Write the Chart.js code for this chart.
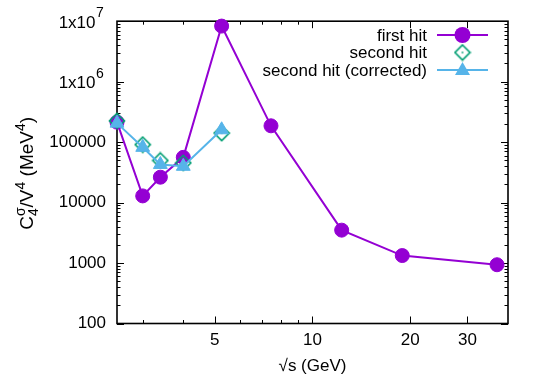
<!DOCTYPE html>
<html>
<head>
<meta charset="utf-8">
<script src="https://cdn.jsdelivr.net/npm/chart.js@4.4.1/dist/chart.umd.min.js"></script>
<style>
html, body { margin: 0; padding: 0; background: #fff; }
#wrap { width: 540px; height: 379px; }
</style>
</head>
<body>
<div id="wrap"><canvas id="c4chart"></canvas></div>
<script>
// values
var energies       = [2.5, 3.0, 3.4, 4.0, 5.25, 7.45, 12.3, 18.9, 37];
var firstHit       = [214000, 12900, 26300, 56000, 8300000, 186000, 3500, 1330, 937];
var secondEnergies = [2.5, 3.0, 3.4, 4.0, 5.25];
var secondHit      = [225000, 91000, 49700, 45400, 141000];
var secondHitCorr  = [206000, 82000, 42700, 39800, 160000];

var xTicks      = [5, 10, 20, 30];
var xMinorTicks = [3, 4, 6, 7, 8, 9];
var yTicks      = [100, 1000, 10000, 100000, 1000000, 10000000];
var yTickLabels = ['100', '1000', '10000', '100000', '1x10^6', '1x10^7'];
var seriesNames = ['first hit', 'second hit', 'second hit (corrected)'];

var PURPLE = '#9400d3', GREEN = '#009e73', BLUE = '#56b4e9';
var FONT = '"Liberation Sans", Arial, sans-serif';

function pairs(xs, ys) {
	return xs.map(function (x, i) { return { x: x, y: ys[i] }; });
}

// open diamond with a small dot in the middle, like gnuplot's
var diamond = document.createElement('canvas');
diamond.width = 18; diamond.height = 18;
(function () {
	var g = diamond.getContext('2d');
	g.strokeStyle = GREEN; g.lineWidth = 1.7;
	g.beginPath();
	g.moveTo(9, 1.5); g.lineTo(16.5, 9); g.lineTo(9, 16.5); g.lineTo(1.5, 9); g.closePath();
	g.stroke();
	g.fillStyle = GREEN;
	g.fillRect(8.2, 8.2, 1.6, 1.6);
})();

var frameTicks = {
	id: 'frameTicks',
	beforeDatasetsDraw: function (chart) {
		var ctx = chart.ctx, a = chart.chartArea, xs = chart.scales.x, ys = chart.scales.y;
		ctx.save();
		ctx.strokeStyle = '#000';
		ctx.lineWidth = 1;
		ctx.beginPath();
		function xt(v, len) {
			var p = Math.round(xs.getPixelForValue(v)) + 0.5;
			ctx.moveTo(p, a.bottom); ctx.lineTo(p, a.bottom - len);
			ctx.moveTo(p, a.top); ctx.lineTo(p, a.top + len);
		}
		function yt(v, len) {
			var p = Math.round(ys.getPixelForValue(v)) + 0.5;
			ctx.moveTo(a.left, p); ctx.lineTo(a.left + len, p);
			ctx.moveTo(a.right, p); ctx.lineTo(a.right - len, p);
		}
		xTicks.forEach(function (v) { xt(v, 7); });
		xMinorTicks.forEach(function (v) { xt(v, 3.5); });
		yTicks.forEach(function (v, i) {
			yt(v, 7);
			if (i < yTicks.length - 1) {
				for (var k = 2; k < 10; k++) yt(v * k, 3.5);
			}
		});
		ctx.stroke();
		ctx.lineWidth = 1.6;
		ctx.strokeRect(a.left, a.top, a.right - a.left, a.bottom - a.top);

		// power-of-ten tick labels with a proper superscript
		ctx.fillStyle = '#000';
		ctx.textBaseline = 'alphabetic';
		yTicks.forEach(function (v, i) {
			var lab = yTickLabels[i];
			if (lab.indexOf('^') < 0) return;
			var bits = lab.split('^'), p = ys.getPixelForValue(v);
			ctx.font = '17px ' + FONT;
			ctx.textAlign = 'right';
			ctx.fillText(bits[0], 95.5, p + 6.5);
			ctx.font = '14px ' + FONT;
			ctx.textAlign = 'left';
			ctx.fillText(bits[1], 96, p - 4);
		});
		ctx.restore();
	},
	afterDraw: function (chart) {
		var ctx = chart.ctx, a = chart.chartArea;
		ctx.save();
		ctx.fillStyle = '#000';

		// x title
		ctx.font = '17px ' + FONT;
		ctx.textAlign = 'center';
		ctx.textBaseline = 'middle';
		ctx.fillText('\u221As (GeV)', (a.left + a.right) / 2, 366);

		// y title, rotated, with sub/superscripts
		var big = '19px ' + FONT, small = '14px ' + FONT;
		var parts = [
			['C', big, 0], ['4', small, 5, 'sub'], ['\u03C3', small, -8], ['/V', big, 0],
			['4', small, -8], [' (MeV', big, 0], ['4', small, -8], [')', big, 0]
		];
		var total = 0;
		parts.forEach(function (p) {
			ctx.font = p[1];
			p.w = p[3] === 'sub' ? 0 : ctx.measureText(p[0]).width;
			total += p.w;
		});
		ctx.translate(33, (a.top + a.bottom) / 2 + 1);
		ctx.rotate(-Math.PI / 2);
		ctx.textAlign = 'left';
		ctx.textBaseline = 'alphabetic';
		var x = -total / 2;
		parts.forEach(function (p) {
			ctx.font = p[1];
			ctx.fillText(p[0], x, p[2]);
			x += p.w;
		});
		ctx.restore();

		// legend, text right aligned with the sample on the right
		ctx.save();
		ctx.font = '17px ' + FONT;
		ctx.textAlign = 'right';
		ctx.textBaseline = 'middle';
		var rows = [35, 52.5, 70], tx = 427, lx0 = 437, lx1 = 488, mx = 462.5;
		seriesNames.forEach(function (name, i) {
			var y = rows[i];
			ctx.fillStyle = '#000';
			ctx.fillText(name, tx, y + 1);
			if (i === 0) {
				ctx.strokeStyle = PURPLE; ctx.lineWidth = 2;
				ctx.beginPath(); ctx.moveTo(lx0, y); ctx.lineTo(lx1, y); ctx.stroke();
				ctx.fillStyle = PURPLE;
				ctx.beginPath(); ctx.arc(mx, y, 8, 0, Math.PI * 2); ctx.fill();
			} else if (i === 1) {
				ctx.drawImage(diamond, mx - 9, y - 9);
			} else {
				ctx.strokeStyle = BLUE; ctx.lineWidth = 2;
				ctx.beginPath(); ctx.moveTo(lx0, y); ctx.lineTo(lx1, y); ctx.stroke();
				ctx.fillStyle = BLUE;
				ctx.beginPath();
				ctx.moveTo(mx, y - 8); ctx.lineTo(mx + 7.5, y + 5); ctx.lineTo(mx - 7.5, y + 5);
				ctx.closePath(); ctx.fill();
			}
		});
		ctx.restore();
	}
};

var ctx = document.getElementById('c4chart');
var c4Chart = new Chart(ctx, {
	type: 'line',
	data: {
		datasets: [
			{
				label: seriesNames[0],
				data: pairs(energies, firstHit),
				borderColor: PURPLE,
				backgroundColor: PURPLE,
				borderWidth: 2,
				pointStyle: 'circle',
				pointRadius: 7,
				pointBorderWidth: 1,
				order: 3,
				clip: false
			},
			{
				label: seriesNames[1],
				data: pairs(secondEnergies, secondHit),
				showLine: false,
				pointStyle: diamond,
				borderColor: GREEN,
				backgroundColor: GREEN,
				order: 2,
				clip: false
			},
			{
				label: seriesNames[2],
				data: pairs(secondEnergies, secondHitCorr),
				borderColor: BLUE,
				backgroundColor: BLUE,
				borderWidth: 2,
				pointStyle: 'triangle',
				pointRadius: 8,
				pointBorderWidth: 1,
				order: 1,
				clip: false
			}
		]
	},
	options: {
		responsive: true,
		maintainAspectRatio: false,
		animation: false,
		layout: { padding: { top: 19, right: 32, left: 0, bottom: 0 } },
		plugins: { legend: { display: false }, tooltip: { enabled: false } },
		scales: {
			x: {
				type: 'logarithmic',
				min: 2.5,
				max: 40,
				grid: { display: false, drawTicks: false },
				border: { display: false },
				afterBuildTicks: function (s) { s.ticks = xTicks.map(function (v) { return { value: v }; }); },
				afterFit: function (s) { s.height = 379 - 323.5; },
				ticks: {
					autoSkip: false, maxRotation: 0, padding: 7, color: '#000',
					font: { family: FONT, size: 17 },
					callback: function (v) { return String(v); }
				}
			},
			y: {
				type: 'logarithmic',
				min: 100,
				max: 10000000,
				grid: { display: false, drawTicks: false },
				border: { display: false },
				afterBuildTicks: function (s) { s.ticks = yTicks.map(function (v) { return { value: v }; }); },
				afterFit: function (s) { s.width = 117; },
				ticks: {
					autoSkip: false, padding: 11, color: '#000',
					font: { family: FONT, size: 17 },
					// the 1x10^n labels are drawn by frameTicks with a real superscript
					callback: function (v) {
						var lab = yTickLabels[yTicks.indexOf(v)];
						return lab.indexOf('^') < 0 ? lab : '';
					}
				}
			}
		}
	},
	plugins: [frameTicks]
});
</script>
</body>
</html>
